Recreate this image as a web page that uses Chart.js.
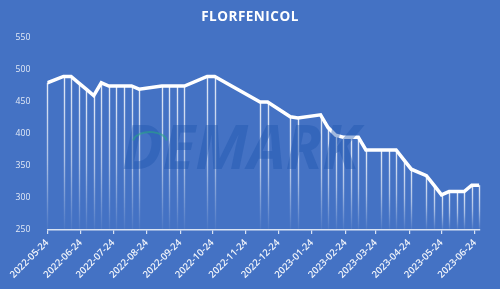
<!DOCTYPE html>
<html>
<head>
<meta charset="utf-8">
<script src="https://cdn.jsdelivr.net/npm/chart.js@4.4.1/dist/chart.umd.min.js"></script>
<style>
html,body{margin:0;padding:0;background:#4472C4;}
#c{display:block;}
</style>
</head>
<body>
<canvas id="c" width="500" height="289"></canvas>
<script>
const title = 'FLORFENICOL';
const dates = ['2022-05-24','2022-06-08','2022-06-15','2022-06-22','2022-06-29','2022-07-06','2022-07-13','2022-07-20','2022-07-27','2022-08-03','2022-08-10','2022-08-17','2022-09-07','2022-09-14','2022-09-21','2022-09-28','2022-10-19','2022-10-26','2022-12-07','2022-12-14','2023-01-04','2023-01-11','2023-02-01','2023-02-08','2023-02-15','2023-02-22','2023-03-01','2023-03-08','2023-03-15','2023-03-29','2023-04-05','2023-04-12','2023-04-19','2023-04-26','2023-05-10','2023-05-17','2023-05-24','2023-05-31','2023-06-07','2023-06-14','2023-06-21','2023-06-28'];
const prices = [480,490,490,480,470,460,480,475,475,475,475,470,475,475,475,475,490,490,450,450,427,425,430,410,398,395,395,395,375,375,375,375,360,345,335,320,305,310,310,310,320,320];
const tickDates = ['2022-05-24','2022-06-24','2022-07-24','2022-08-24','2022-09-24','2022-10-24','2022-11-24','2022-12-24','2023-01-24','2023-02-24','2023-03-24','2023-04-24','2023-05-24','2023-06-24'];
const yTicks = [250,300,350,400,450,500,550];
const watermark = 'DEMARK';

function toMs(s){const p=s.split('-').map(Number);return Date.UTC(p[0],p[1]-1,p[2]);}
const base = toMs(dates[0]);
const dayOf = s => Math.round((toMs(s)-base)/86400000);
const points = dates.map((d,i)=>({x:dayOf(d), y:prices[i]}));
const tickDays = tickDates.map(dayOf);

const dropLines = {
  id:'dropLines',
  beforeDatasetsDraw(chart){
    const {ctx, chartArea} = chart;
    const meta = chart.getDatasetMeta(0);
    ctx.save();
    meta.data.forEach(pt=>{
      const g = ctx.createLinearGradient(0, pt.y, 0, chartArea.bottom);
      g.addColorStop(0,'rgba(255,255,255,0.85)');
      g.addColorStop(0.55,'rgba(255,255,255,0.55)');
      g.addColorStop(1,'rgba(255,255,255,0.03)');
      ctx.strokeStyle = g;
      ctx.lineWidth = 1.4;
      ctx.beginPath();
      ctx.moveTo(Math.round(pt.x)+0.5, pt.y);
      ctx.lineTo(Math.round(pt.x)+0.5, chartArea.bottom-1);
      ctx.stroke();
    });
    ctx.restore();
  }
};

const wm = {
  id:'wm',
  afterDatasetsDraw(chart){
    const ctx = chart.ctx;
    ctx.save();
    ctx.font = 'italic bold 60px "Open Sans"';
    ctx.fillStyle = 'rgba(30,85,175,0.42)';
    ctx.textBaseline = 'alphabetic';
    ctx.textAlign = 'left';
    ctx.fillText(watermark, 122, 169);
    ctx.strokeStyle = 'rgba(40,170,130,0.55)';
    ctx.lineWidth = 2;
    ctx.beginPath();
    ctx.ellipse(150, 142, 17, 10, 0, Math.PI*1.05, Math.PI*1.95);
    ctx.stroke();
    ctx.restore();
  }
};

const titlePlugin = {
  id:'titleText',
  afterDraw(chart){
    const ctx = chart.ctx;
    ctx.save();
    ctx.font = 'bold 13.5px "Open Sans"';
    try{ ctx.letterSpacing = '0.5px'; }catch(e){}
    ctx.fillStyle = '#ffffff';
    ctx.textAlign = 'center';
    ctx.textBaseline = 'middle';
    ctx.fillText(title, 250, 17);
    ctx.restore();
  }
};

new Chart(document.getElementById('c'), {
  type:'line',
  data:{datasets:[{
    data:points,
    borderColor:'#ffffff',
    borderWidth:3.5,
    pointRadius:0,
    tension:0,
    fill:false,
    borderJoinStyle:'miter'
  }]},
  options:{
    responsive:false,
    animation:false,
    devicePixelRatio:1,
    layout:{padding:{left:0,right:20.7,top:38,bottom:0}},
    plugins:{
      legend:{display:false},
      tooltip:{enabled:false},
      title:{display:false}
    },
    scales:{
      x:{
        type:'linear',
        min:0,
        max:dayOf(dates[dates.length-1]),
        afterBuildTicks:(s)=>{s.ticks = tickDays.map(v=>({value:v}));},
        afterFit:(s)=>{s.height = 59;},
        grid:{drawOnChartArea:false,drawTicks:true,tickLength:4,color:'rgba(255,255,255,0.8)',lineWidth:1.2},
        border:{display:true,color:'rgba(255,255,255,0.8)',width:1.5},
        ticks:{
          autoSkip:false,
          minRotation:45,maxRotation:45,
          padding:3,
          color:'rgba(255,255,255,0.92)',
          font:{family:'"Open Sans"',size:9.6,weight:'600'},
          callback:(v,i)=>tickDates[i]
        }
      },
      y:{
        min:250,max:550,
        afterBuildTicks:(s)=>{s.ticks = yTicks.map(v=>({value:v}));},
        afterFit:(s)=>{s.width = 47.3;},
        grid:{display:false},
        border:{display:false},
        ticks:{
          padding:9,
          color:'rgba(255,255,255,0.85)',
          font:{family:'"Open Sans"',size:8.6}
        }
      }
    }
  },
  plugins:[dropLines, wm, titlePlugin]
});
</script>
</body>
</html>
